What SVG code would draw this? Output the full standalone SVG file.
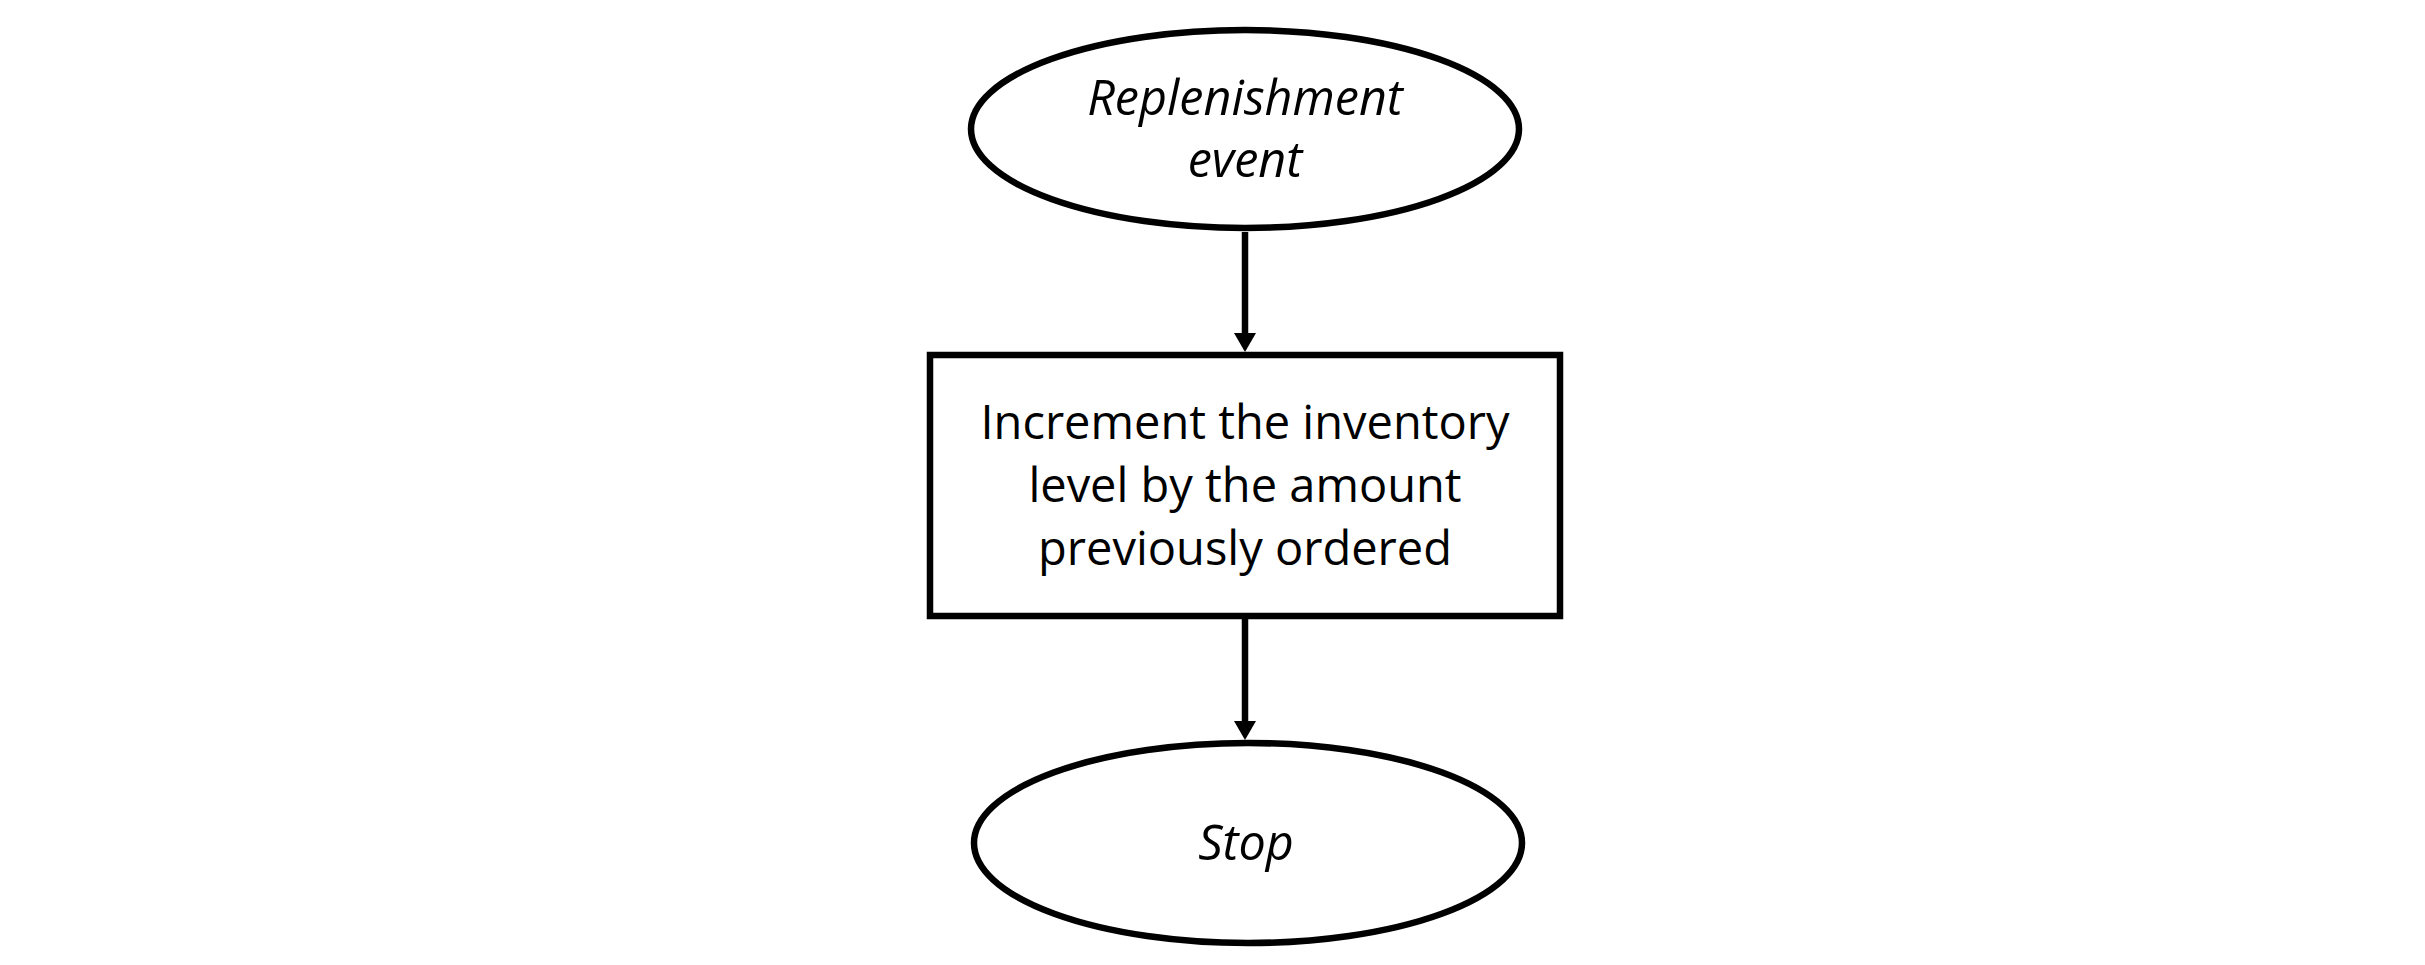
<svg xmlns="http://www.w3.org/2000/svg" width="2425" height="965" viewBox="0 0 2425 965">
  <style>
    .shape { fill: #ffffff; stroke: #000000; stroke-width: 6.5; }
    .conn { stroke: #000000; stroke-width: 6.5; fill: none; }
    .lbl { font-family: "Open Sans", "Noto Sans", "Liberation Sans", sans-serif; font-size: 47px; fill: #000000; text-anchor: middle; }
    .it { font-style: italic; font-size: 48.5px; }
  </style>
  <defs>
    <marker id="arrow" viewBox="0 0 19 22" markerWidth="19" markerHeight="22" markerUnits="userSpaceOnUse" refX="1" refY="11" orient="auto">
      <path d="M0,0 L19,11 L0,22 Z" fill="#000000"/>
    </marker>
  </defs>
  <rect x="0" y="0" width="2425" height="965" fill="#ffffff"/>
  <g id="connectors">
    <line class="conn" x1="1245" y1="232" x2="1245" y2="334" marker-end="url(#arrow)"/>
    <line class="conn" x1="1245" y1="619" x2="1245" y2="722" marker-end="url(#arrow)"/>
  </g>
  <g id="node-replenishment">
    <ellipse class="shape" cx="1245" cy="129" rx="274" ry="99"/>
    <text class="lbl it" x="1245" y="115">Replenishment</text>
    <text class="lbl it" x="1245" y="177">event</text>
  </g>
  <g id="node-increment">
    <rect class="shape" x="930" y="355" width="630" height="261"/>
    <text class="lbl" x="1245" y="439">Increment the inventory</text>
    <text class="lbl" x="1245" y="502">level by the amount</text>
    <text class="lbl" x="1245" y="565">previously ordered</text>
  </g>
  <g id="node-stop">
    <ellipse class="shape" cx="1248" cy="843" rx="274" ry="100"/>
    <text class="lbl it" x="1246" y="860">Stop</text>
  </g>
</svg>
